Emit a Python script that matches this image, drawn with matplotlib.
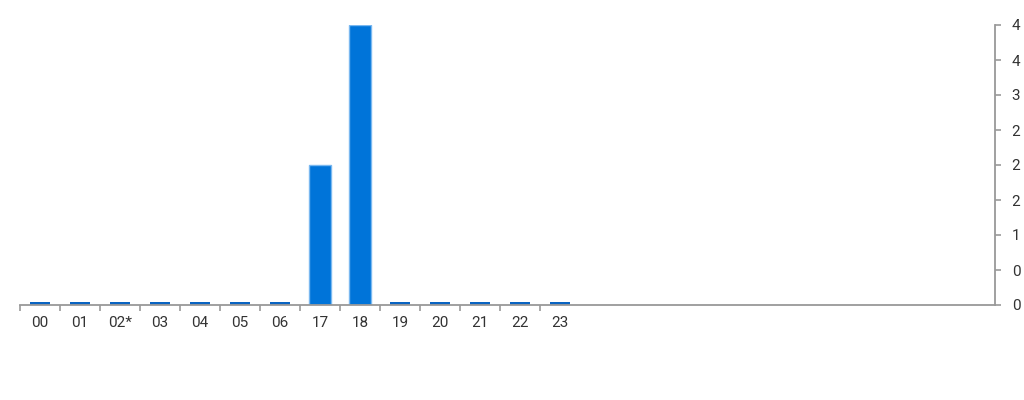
import matplotlib
matplotlib.use('Agg')
import matplotlib.pyplot as plt
from matplotlib.ticker import FixedLocator, FuncFormatter, NullFormatter

hours = ['00', '01', '02*', '03', '04', '05', '06', '17', '18', '19', '20', '21', '22', '23']
counts = [0, 0, 0, 0, 0, 0, 0, 2, 4, 0, 0, 0, 0, 0]

plt.rcParams['font.family'] = ['Roboto', 'DejaVu Sans']

fig = plt.figure(figsize=(10.24, 4), dpi=100)
ax = fig.add_axes([20 / 1024, 1 - 305 / 400, 975 / 1024, 280 / 400])

x = list(range(len(hours)))
stub = 0.045  # zero values still get a thin marker bar
for xi, v in zip(x, counts):
    if v > 0:
        ax.bar(xi, v, width=0.56, color='#0074d9', edgecolor='#7ab8f0',
               linewidth=1.0, zorder=2)
    else:
        ax.bar(xi, stub, width=0.5, color='#0a64c2', linewidth=0, zorder=2)

ax.set_xlim(-0.5, 23.875)
ax.set_ylim(0, 4)

for s in ['top', 'left']:
    ax.spines[s].set_visible(False)
for s in ['bottom', 'right']:
    ax.spines[s].set_color('#999999')
    ax.spines[s].set_linewidth(1.3)

# x ticks sit between categories, labels centred on the bars
ax.xaxis.set_major_locator(FixedLocator([i - 0.5 for i in x]))
ax.xaxis.set_major_formatter(NullFormatter())
ax.xaxis.set_minor_locator(FixedLocator(x))
ax.set_xticklabels(hours, minor=True)
ax.tick_params(axis='x', which='major', length=4, width=1.2, color='#999999')
ax.tick_params(axis='x', which='minor', length=0, pad=8, labelsize=11, labelcolor='#333333')

ax.yaxis.tick_right()
ax.set_yticks([i * 0.5 for i in range(9)])
ax.yaxis.set_major_formatter(FuncFormatter(lambda v, p: '%d' % round(v)))
ax.tick_params(axis='y', length=4, width=1.2, color='#999999', pad=8,
               labelsize=11, labelcolor='#333333')

fig.savefig('out.png', dpi=100, facecolor='white')
